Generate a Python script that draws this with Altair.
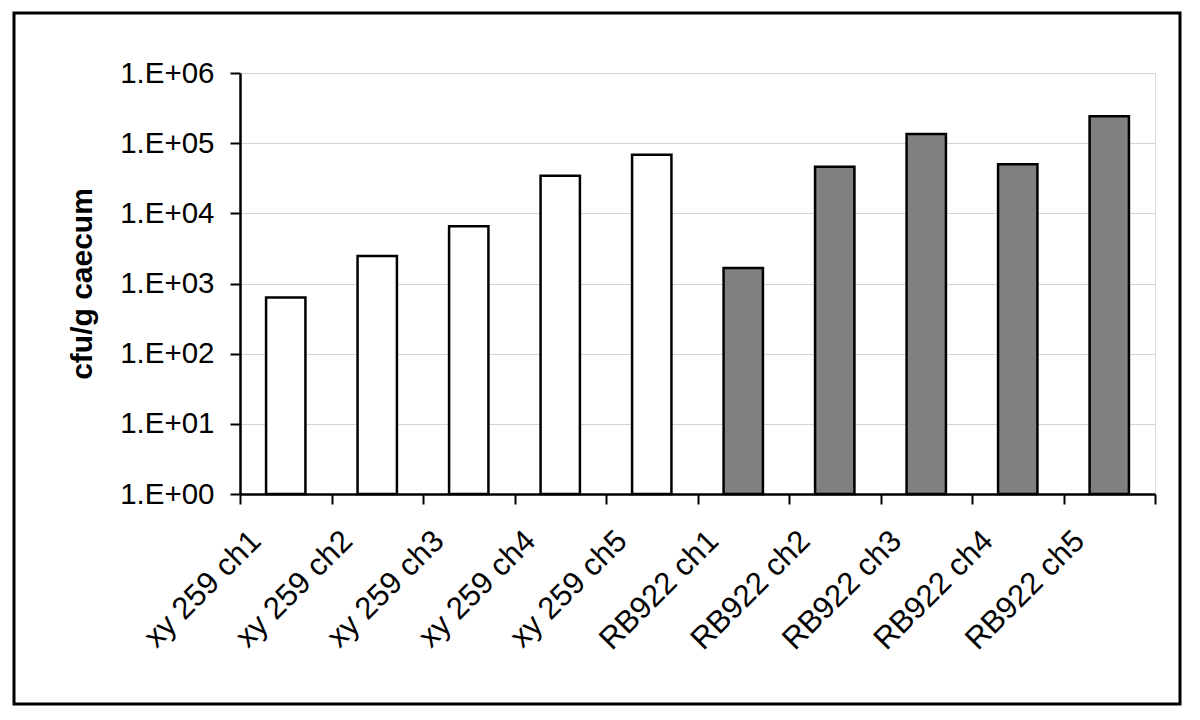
import altair as alt
import pandas as pd

categories = ["xy 259 ch1", "xy 259 ch2", "xy 259 ch3", "xy 259 ch4", "xy 259 ch5",
              "RB922 ch1", "RB922 ch2", "RB922 ch3", "RB922 ch4", "RB922 ch5"]
values = [630, 2460, 6570, 34300, 68200, 1660, 46000, 135600, 50100, 241500]
groups = ["xy 259"] * 5 + ["RB922"] * 5
y_ticks = [1, 10, 100, 1000, 10000, 100000, 1000000]

df = pd.DataFrame({"category": categories, "value": values, "group": groups})

FONT = "Liberation Sans"
W, H = 915, 421

bars = alt.Chart(df).mark_bar(
    width=alt.RelativeBandSize(0.43), stroke="black", strokeWidth=2.5
).encode(
    x=alt.X("category:N", sort=categories,
            scale=alt.Scale(paddingInner=0, paddingOuter=0),
            axis=alt.Axis(title=None, labelAngle=315, labelAlign="right",
                          labelBaseline="middle", labelFontSize=31, labelFont=FONT,
                          labelColor="black", labelPadding=32, labelOffset=-30,
                          tickBand="extent", tickSize=10, tickWidth=2, tickColor="black",
                          domainColor="black", domainWidth=2.5, grid=False)),
    y=alt.Y("value:Q",
            scale=alt.Scale(type="log", domain=[1, 1000000], nice=False),
            axis=alt.Axis(title="cfu/g caecum", values=y_ticks,
                          labelExpr="'1.E+0' + round(log(datum.value) / LN10)",
                          labelFontSize=29.5, labelFont=FONT, labelColor="black",
                          labelPadding=16, tickSize=10, tickWidth=2, tickColor="black",
                          domainColor="black", domainWidth=2.5,
                          grid=True, gridColor="#d4d4d4", gridWidth=1,
                          titleFont=FONT, titleFontSize=30, titleFontWeight="bold",
                          titleColor="black", titlePadding=22)),
    y2=alt.datum(1),
    fill=alt.Fill("group:N", scale=alt.Scale(domain=["xy 259", "RB922"],
                                            range=["#ffffff", "#808080"]),
                  legend=None),
)

frame = alt.Chart(df).mark_rect(fill=None, stroke="black", strokeWidth=3).encode(
    x=alt.value(-226), x2=alt.value(940), y=alt.value(-60), y2=alt.value(631)
).transform_filter(alt.datum.category == categories[0])

chart = alt.layer(bars, frame).properties(
    width=W, height=H,
    autosize=alt.AutoSizeParams(type="none"),
    padding={"left": 232, "top": 65, "right": 37, "bottom": 218},
).configure_view(stroke=None).configure(background="white")

chart.save("out.html", embed_options={"renderer": "svg", "actions": False})
